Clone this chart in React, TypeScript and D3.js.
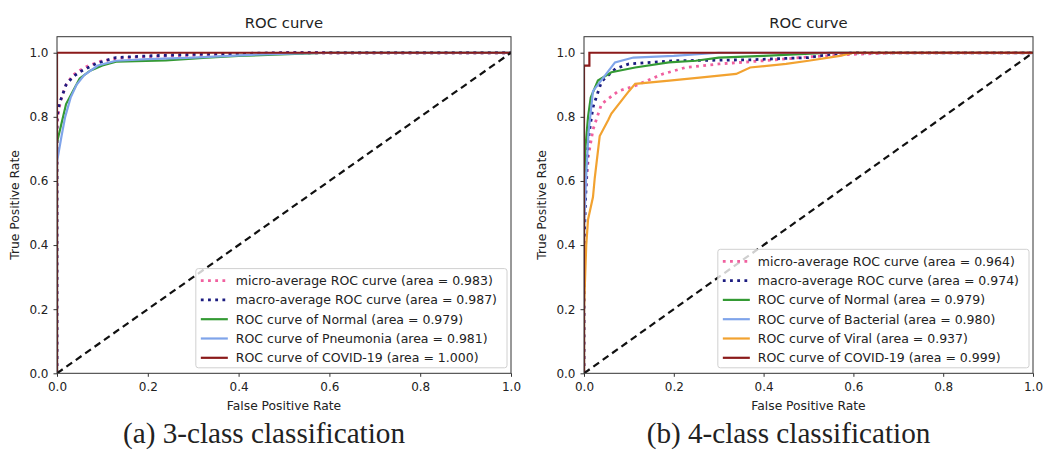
import * as React from "react";
import * as d3 from "d3";

type Pt = [number, number];

const axisTicks = [0, 0.2, 0.4, 0.6, 0.8, 1.0];
const titles = ["ROC curve", "ROC curve"];
const captions = ["(a) 3-class classification", "(b) 4-class classification"];

// (a) 3-class: [fpr, tpr]
const microA: Pt[] = [[0, 0], [0, 0.78], [0.005, 0.83], [0.01, 0.86], [0.02, 0.9], [0.035, 0.93], [0.05, 0.945], [0.07, 0.96], [0.1, 0.975], [0.15, 0.985], [0.25, 0.99], [0.4, 0.995], [0.5, 1], [1, 1]];
const macroA: Pt[] = [[0, 0], [0, 0.8], [0.005, 0.84], [0.01, 0.86], [0.02, 0.9], [0.035, 0.925], [0.05, 0.94], [0.087, 0.967], [0.13, 0.985], [0.2, 0.99], [0.3, 0.995], [0.5, 1], [1, 1]];
const normalA: Pt[] = [[0, 0], [0, 0.72], [0.01, 0.78], [0.02, 0.84], [0.035, 0.88], [0.05, 0.92], [0.073, 0.944], [0.1, 0.96], [0.13, 0.972], [0.24, 0.976], [0.33, 0.985], [0.4, 0.99], [0.6, 1], [1, 1]];
const pneumoniaA: Pt[] = [[0, 0], [0, 0.66], [0.01, 0.74], [0.018, 0.8], [0.03, 0.86], [0.043, 0.9], [0.06, 0.93], [0.09, 0.96], [0.13, 0.975], [0.2, 0.98], [0.3, 0.985], [0.45, 0.995], [0.6, 1], [1, 1]];
const covidA: Pt[] = [[0, 0], [0, 1], [1, 1]];
const labelsA = [
  "micro-average ROC curve (area = 0.983)",
  "macro-average ROC curve (area = 0.987)",
  "ROC curve of Normal (area = 0.979)",
  "ROC curve of Pneumonia (area = 0.981)",
  "ROC curve of COVID-19 (area = 1.000)",
];

// (b) 4-class
const microB: Pt[] = [[0, 0], [0, 0.5], [0.01, 0.68], [0.02, 0.76], [0.039, 0.84], [0.076, 0.88], [0.114, 0.897], [0.174, 0.933], [0.226, 0.954], [0.3, 0.965], [0.4, 0.975], [0.5, 0.987], [0.6, 0.995], [0.7, 1], [1, 1]];
const macroB: Pt[] = [[0, 0], [0, 0.4], [0.005, 0.6], [0.009, 0.726], [0.02, 0.83], [0.039, 0.91], [0.07, 0.95], [0.1, 0.965], [0.2, 0.975], [0.37, 0.978], [0.5, 0.985], [0.55, 0.995], [0.6, 1], [1, 1]];
const normalB: Pt[] = [[0, 0], [0, 0.55], [0.003, 0.7], [0.009, 0.8], [0.015, 0.86], [0.031, 0.913], [0.061, 0.939], [0.114, 0.954], [0.189, 0.97], [0.249, 0.975], [0.3, 0.985], [0.4, 0.99], [0.55, 1], [1, 1]];
const bacterialB: Pt[] = [[0, 0], [0, 0.45], [0.005, 0.62], [0.01, 0.75], [0.02, 0.88], [0.05, 0.935], [0.069, 0.97], [0.11, 0.985], [0.2, 0.99], [0.3, 1], [1, 1]];
const viralB: Pt[] = [[0, 0], [0, 0.2], [0.005, 0.4], [0.009, 0.48], [0.02, 0.55], [0.024, 0.61], [0.035, 0.74], [0.054, 0.79], [0.061, 0.81], [0.1, 0.88], [0.114, 0.903], [0.19, 0.913], [0.263, 0.923], [0.339, 0.934], [0.37, 0.954], [0.45, 0.965], [0.5, 0.975], [0.57, 0.99], [0.6, 1], [1, 1]];
const covidB: Pt[] = [[0, 0], [0, 0.96], [0.012, 0.96], [0.012, 1], [1, 1]];
const labelsB = [
  "micro-average ROC curve (area = 0.964)",
  "macro-average ROC curve (area = 0.974)",
  "ROC curve of Normal (area = 0.979)",
  "ROC curve of Bacterial (area = 0.980)",
  "ROC curve of Viral (area = 0.937)",
  "ROC curve of COVID-19 (area = 0.999)",
];

const diagonal: Pt[] = [[0, 0], [1, 1]];

const PINK = "#f0609f";
const NAVY = "#1c1c80";
const GREEN = "#349a34";
const BLUE = "#7fa4ea";
const ORANGE = "#f2a230";
const RED = "#8b1a1a";

type Series = { label: string; pts: Pt[]; color: string; dotted: boolean };

const panelA: Series[] = [
  { label: labelsA[0], pts: microA, color: PINK, dotted: true },
  { label: labelsA[1], pts: macroA, color: NAVY, dotted: true },
  { label: labelsA[2], pts: normalA, color: GREEN, dotted: false },
  { label: labelsA[3], pts: pneumoniaA, color: BLUE, dotted: false },
  { label: labelsA[4], pts: covidA, color: RED, dotted: false },
];
const panelB: Series[] = [
  { label: labelsB[0], pts: microB, color: PINK, dotted: true },
  { label: labelsB[1], pts: macroB, color: NAVY, dotted: true },
  { label: labelsB[2], pts: normalB, color: GREEN, dotted: false },
  { label: labelsB[3], pts: bacterialB, color: BLUE, dotted: false },
  { label: labelsB[4], pts: viralB, color: ORANGE, dotted: false },
  { label: labelsB[5], pts: covidB, color: RED, dotted: false },
];

const SANS = "DejaVu Sans, sans-serif";
const TOP = 36.7;
const BOTTOM = 373.3;

const drawPanel = (root, series: Series[], title: string, caption: string, x0: number, x1: number, id: string) => {
  const x = d3.scaleLinear().domain([0, 1]).range([x0, x1]);
  const y = d3.scaleLinear().domain([0, 1.05]).range([BOTTOM, TOP]);
  const g = root.append("g");

  g.append("clipPath").attr("id", id).append("rect")
    .attr("x", x0).attr("y", TOP).attr("width", x1 - x0).attr("height", BOTTOM - TOP);

  const line = d3.line<Pt>().x(d => x(d[0])).y(d => y(d[1]));
  const plot = g.append("g").attr("clip-path", `url(#${id})`);
  series.forEach(s => {
    plot.append("path")
      .attr("d", line(s.pts))
      .attr("fill", "none")
      .attr("stroke", s.color)
      .attr("stroke-width", s.dotted ? 2.8 : 2.2)
      .attr("stroke-dasharray", s.dotted ? "2.8,4.4" : null);
  });
  plot.append("path")
    .attr("d", line(diagonal))
    .attr("fill", "none")
    .attr("stroke", "#111")
    .attr("stroke-width", 2.2)
    .attr("stroke-dasharray", "7,4.5");

  // frame
  g.append("rect")
    .attr("x", x0).attr("y", TOP).attr("width", x1 - x0).attr("height", BOTTOM - TOP)
    .attr("fill", "none").attr("stroke", "#333").attr("stroke-width", 1);

  const fmt = d3.format(".1f");
  const xAxis = g.append("g")
    .attr("transform", `translate(0,${BOTTOM})`)
    .call(d3.axisBottom(x).tickValues(axisTicks).tickFormat(fmt).tickSize(3.5).tickPadding(6));
  const yAxis = g.append("g")
    .attr("transform", `translate(${x0},0)`)
    .call(d3.axisLeft(y).tickValues(axisTicks).tickFormat(fmt).tickSize(3.5).tickPadding(5));
  [xAxis, yAxis].forEach(a => {
    a.select(".domain").remove();
    a.selectAll("line").attr("stroke", "#333");
    a.selectAll("text").attr("font-family", SANS).attr("font-size", 12).attr("fill", "#222");
  });

  g.append("text")
    .attr("x", (x0 + x1) / 2).attr("y", 28.3)
    .attr("text-anchor", "middle")
    .attr("font-family", SANS).attr("font-size", 14.8).attr("fill", "#222")
    .text(title);
  g.append("text")
    .attr("x", (x0 + x1) / 2).attr("y", 410)
    .attr("text-anchor", "middle")
    .attr("font-family", SANS).attr("font-size", 12.3).attr("fill", "#222")
    .text("False Positive Rate");
  g.append("text")
    .attr("transform", `translate(${x0 - 38},${(TOP + BOTTOM) / 2}) rotate(-90)`)
    .attr("text-anchor", "middle")
    .attr("font-family", SANS).attr("font-size", 12.3).attr("fill", "#222")
    .text("True Positive Rate");

  // legend, lower right
  const rowH = 19.3;
  const n = series.length;
  const lastRow = BOTTOM - 6 - 9.5;
  const firstRow = lastRow - (n - 1) * rowH;
  const leg = g.append("g");
  const box = leg.append("rect");
  const texts = series.map((s, i) =>
    leg.append("text")
      .attr("y", firstRow + i * rowH)
      .attr("dy", "0.35em")
      .attr("font-family", SANS).attr("font-size", 12.5).attr("fill", "#222")
      .text(s.label)
  );
  const maxW = d3.max(texts, t => (t.node() as SVGTextElement).getComputedTextLength()) || 260;
  const boxW = 40 + maxW + 10;
  const boxR = x1 - 4;
  const boxL = boxR - boxW;
  box.attr("x", boxL).attr("y", firstRow - 12).attr("width", boxW).attr("height", lastRow + 10 - (firstRow - 12))
    .attr("rx", 2.5).attr("fill", "white").attr("fill-opacity", 0.8)
    .attr("stroke", "#d0d0d0").attr("stroke-width", 1);
  texts.forEach(t => t.attr("x", boxL + 40));
  series.forEach((s, i) => {
    leg.append("line")
      .attr("x1", boxL + 5).attr("x2", boxL + 32)
      .attr("y1", firstRow + i * rowH).attr("y2", firstRow + i * rowH)
      .attr("stroke", s.color)
      .attr("stroke-width", s.dotted ? 2.8 : 2.2)
      .attr("stroke-dasharray", s.dotted ? "2.8,4.4" : null);
  });

  g.append("text")
    .attr("x", (x0 + x1) / 2 - 20).attr("y", 443)
    .attr("text-anchor", "middle")
    .attr("font-family", "Liberation Serif, serif").attr("font-size", 29.2).attr("fill", "#222")
    .text(caption);
};

const App = () => {
  const ref = React.useRef<SVGSVGElement>(null);

  React.useEffect(() => {
    const svg = d3.select(ref.current);
    svg.selectAll("*").remove();
    svg.append("rect").attr("width", 1046).attr("height", 454).attr("fill", "white");
    drawPanel(svg, panelA, titles[0], captions[0], 57, 511, "clipA");
    drawPanel(svg, panelB, titles[1], captions[1], 584, 1033, "clipB");
  }, []);

  return (
    <div style={{ position: "absolute", left: 0, top: 0 }}>
      <svg ref={ref} width={1046} height={454} />
    </div>
  );
};

export default App;
